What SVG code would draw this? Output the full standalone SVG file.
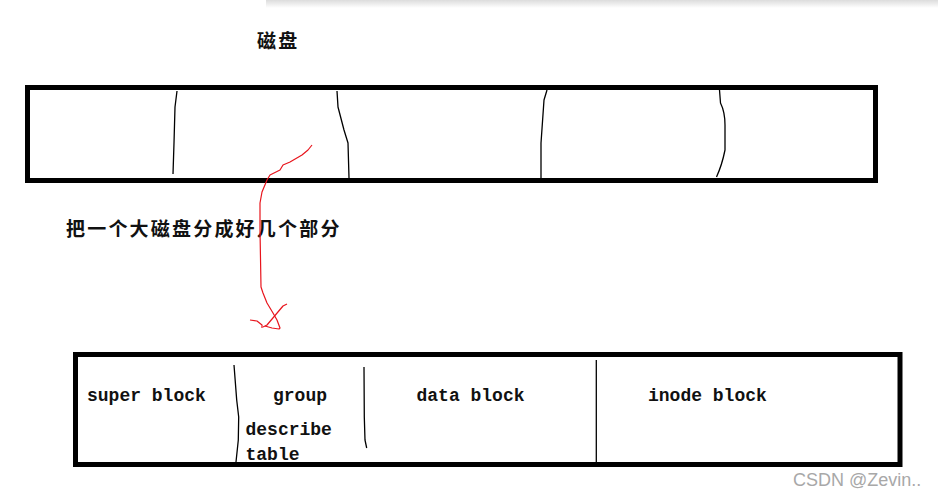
<svg xmlns="http://www.w3.org/2000/svg" width="938" height="496" viewBox="0 0 938 496">
<style>
.box{fill:none;stroke:#000;stroke-width:5}
.div{fill:none;stroke:#000;stroke-width:1.3;stroke-linejoin:round}
.red{fill:none;stroke:#e8141c;stroke-width:1.2;stroke-linejoin:round}
.cjk{font-family:"Noto Sans CJK SC","Noto Sans CJK TC",sans-serif;font-weight:bold;font-size:19px;letter-spacing:2.2px;fill:#111}
.lbl{font-family:"Liberation Mono",monospace;font-weight:bold;font-size:18px;fill:#111}
.wm{font-family:"Liberation Sans",Arial,sans-serif;font-size:18px;fill:#a8a8a8}
</style>
<defs>
<linearGradient id="sh" x1="0" y1="0" x2="0" y2="1">
<stop offset="0" stop-color="#dcdcdc"/>
<stop offset="1" stop-color="#ffffff"/>
</linearGradient>
</defs>
<rect width="938" height="496" fill="#fff"/>
<rect x="266" y="0" width="672" height="8" fill="url(#sh)"/>

<g id="title">
<text class="cjk" x="257" y="48">磁盘</text>
</g>

<g id="disk">
<rect class="box" x="27.5" y="87.5" width="848" height="93"/>
<path class="div" d="M177,91 L175,107 L174,143 L173,174"/>
<path class="div" d="M337,91 L338,107 L344,130 L348,143 L349,178"/>
<path class="div" d="M547,90 L544,100 L541,143 L541,183"/>
<path class="div" d="M719.5,90 L720.5,103 Q725,112 725,125 L725,150 Q722,165 716.5,177"/>
</g>

<g id="caption">
<text class="cjk" x="66" y="236">把一个大磁盘分成好几个部分</text>
</g>

<g id="connectors">
<path class="red" d="M312,145 L308,150 L302,155 L290,162 L283,165 L280,170 L270,175 L267,180 L262,192 L260,203 L260,230 L261,287 L263,293 L267,303 L273,313 L277,320 L280,328 L279,329 L272,328 L265,326"/>
<path class="red" d="M287,304 L283,306 L267,325 L263,327"/>
<path class="red" d="M250,320 L257,321 L262,325 L262,328"/>
</g>

<g id="partitions">
<rect class="box" x="75.5" y="354.5" width="824.5" height="110"/>
<path class="div" d="M234,365 L236.7,400 L238.7,417 L238.3,440 L236,462"/>
<path class="div" d="M364,367 L364.3,417 L365,440 L366.7,448"/>
<path class="div" d="M596.3,360 L596.3,462"/>
</g>

<g id="super-block"><text class="lbl" x="87" y="401">super block</text></g>
<g id="group">
<text class="lbl" x="273" y="401">group</text>
<text class="lbl" x="245.5" y="435">describe</text>
<text class="lbl" x="245.5" y="460">table</text>
</g>
<g id="data-block"><text class="lbl" x="416.5" y="401">data block</text></g>
<g id="inode-block"><text class="lbl" x="648" y="401">inode block</text></g>

<text class="wm" x="793" y="486">CSDN @Zevin..</text>
</svg>
